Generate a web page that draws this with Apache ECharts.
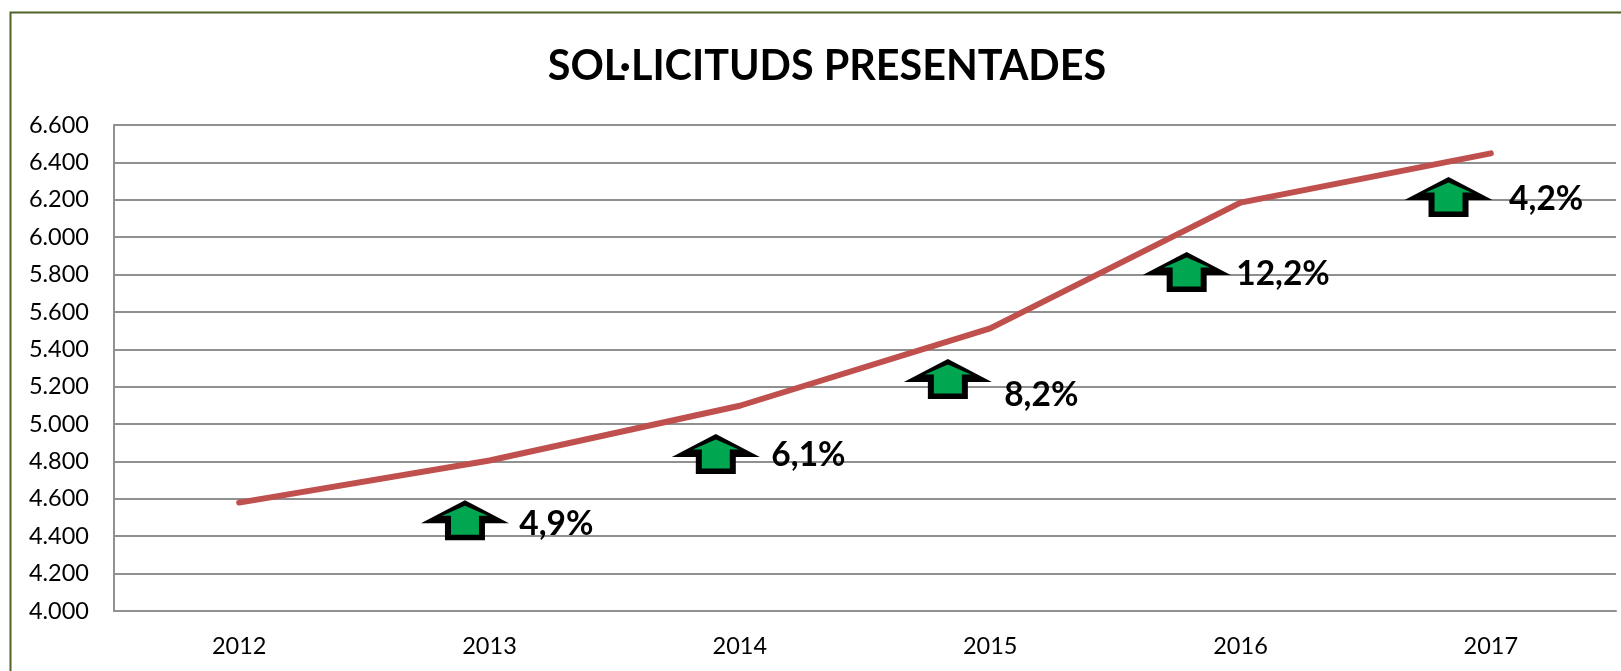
<!DOCTYPE html>
<html>
<head>
<meta charset="utf-8">
<style>html,body{margin:0;padding:0;background:#fff}#c{width:1621px;height:671px}</style>
<script src="https://cdn.jsdelivr.net/npm/echarts@6/dist/echarts.min.js"></script>
</head>
<body>
<div id="c"></div>
<script>
const titleText = 'SOL·LICITUDS PRESENTADES';
const years = ['2012','2013','2014','2015','2016','2017'];
const requests = [4580,4805,5098,5512,6185,6448];
const arrowX = [1.402,2.404,3.331,4.285,5.331];
const arrowY = [4486,4840,5241,5813,6215];
const changeText = ['4,9%','6,1%','8,2%','12,2%','4,2%'];
const changeX = [1.617,2.624,3.554,4.481,5.571];
const changeY = [4466,4835,5156,5803,6202];
const font = 'Lato, Carlito, sans-serif';
const outerArrow = 'path://M44 0L88 23L64 23L64 40L24 40L24 23L0 23Z';
const innerArrow = 'path://M23 0L46 10L37 10L37 29L9 29L9 10L0 10Z';
const arrowPts = arrowX.map((x,i)=>[x,arrowY[i]]);
const chart = echarts.init(document.getElementById('c'),null,{renderer:'canvas'});
chart.setOption({
  animation:false,
  backgroundColor:'#fff',
  title:{text:titleText,left:822,top:41,itemGap:0,textAlign:'center',
    textStyle:{fontFamily:font,fontWeight:'bold',fontSize:41.3,color:'#000'}},
  graphic:[{type:'rect',silent:true,shape:{x:10.5,y:12.5,width:2000,height:1000},
    style:{fill:'none',stroke:'#4f6228',lineWidth:2},z:-1}],
  grid:{left:114,top:125,width:1502,height:486,containLabel:false},
  xAxis:[
    {type:'category',data:years,boundaryGap:true,
      axisLine:{show:true,lineStyle:{color:'#909090',width:2}},axisTick:{show:false},
      axisLabel:{fontFamily:font,fontSize:23.5,color:'#000',margin:23}},
    {type:'value',min:0,max:6,show:false}
  ],
  yAxis:{type:'value',min:4000,max:6600,interval:200,
    axisLine:{show:true,lineStyle:{color:'#909090',width:2}},axisTick:{show:false},
    splitLine:{show:true,lineStyle:{color:'#909090',width:2}},
    axisLabel:{fontFamily:font,fontSize:23.5,color:'#000',margin:25,
      formatter:v=>String(v).replace(/(\d)(\d{3})$/,'$1.$2')}},
  series:[
    {type:'line',data:requests,xAxisIndex:0,symbol:'none',z:3,
      lineStyle:{color:'#c0504d',width:6,cap:'round',join:'round'}},
    {type:'scatter',xAxisIndex:1,data:arrowPts,symbol:outerArrow,symbolSize:[88,40],z:4,
      itemStyle:{color:'#000',opacity:1}},
    {type:'scatter',xAxisIndex:1,data:arrowPts,symbol:innerArrow,symbolSize:[46,29],z:5,
      itemStyle:{color:'#00a650',opacity:1}},
    {type:'scatter',xAxisIndex:1,data:changeX.map((x,i)=>[x,changeY[i]]),symbolSize:1,z:6,
      itemStyle:{color:'transparent',opacity:1},
      label:{show:true,position:'right',distance:0,
        formatter:p=>changeText[p.dataIndex],
        fontFamily:font,fontWeight:'bold',fontSize:33.5,color:'#000'}}
  ]
});
</script>
</body>
</html>
